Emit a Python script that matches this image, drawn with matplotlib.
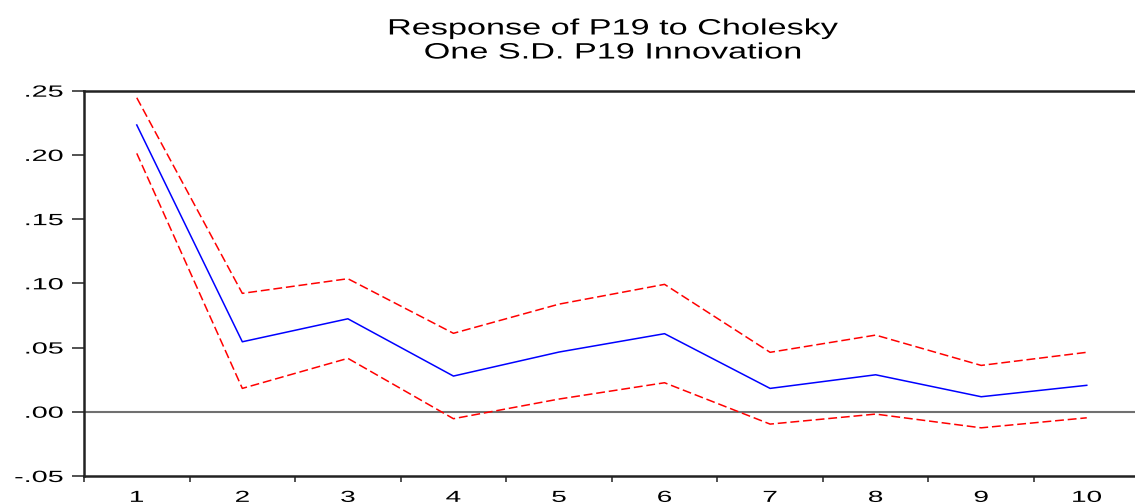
import numpy as np
import matplotlib
matplotlib.use("Agg")
import matplotlib.pyplot as plt
from matplotlib.ticker import FuncFormatter
from matplotlib.patheffects import AbstractPathEffect
from matplotlib.path import Path
from matplotlib.transforms import Affine2D

plt.rcParams['font.family'] = ['Liberation Sans', 'DejaVu Sans']

# impulse response of P19 with +/- 2 S.E. bands
periods = [1, 2, 3, 4, 5, 6, 7, 8, 9, 10]
response = [0.2233, 0.0545, 0.0724, 0.0278, 0.0465, 0.0608, 0.0182, 0.0288, 0.0117, 0.0206]
upper = [0.2445, 0.0922, 0.1036, 0.0611, 0.0838, 0.0992, 0.0463, 0.0597, 0.0361, 0.0463]
lower = [0.2012, 0.0182, 0.0416, -0.0054, 0.0099, 0.0226, -0.0096, -0.0018, -0.0125, -0.0047]
yticks = [-0.05, 0.00, 0.05, 0.10, 0.15, 0.20, 0.25]
title1 = "Response of P19 to Cholesky"
title2 = "One S.D. P19 Innovation"


# the original text is stretched sideways, widen glyphs around their anchor
class Stretch(AbstractPathEffect):
    def __init__(self, sx, anchor='center'):
        super().__init__()
        self.sx = sx
        self.anchor = anchor

    def draw_path(self, renderer, gc, tpath, affine, rgbFace=None):
        v = tpath.vertices
        if tpath.codes is not None:
            v = v[tpath.codes != Path.CLOSEPOLY]
        xs = affine.transform(v)[:, 0]
        cx = xs.max() if self.anchor == 'right' else (xs.min() + xs.max()) / 2
        t = affine + Affine2D().translate(-cx, 0).scale(self.sx, 1).translate(cx, 0)
        renderer.draw_path(gc, tpath, t, rgbFace)


fig = plt.figure(figsize=(11.35, 5.03), dpi=100)
ax = fig.add_axes([0.074, 0.0537, 0.930, 0.766])

ax.axhline(0, color='#707070', lw=1.5, zorder=1)
ax.plot(periods, response, color='#0000FF', lw=1.1, zorder=3)
ax.plot(periods, upper, color='#FF0000', lw=1.1, dashes=(5.8, 2.5), zorder=2)
ax.plot(periods, lower, color='#FF0000', lw=1.1, dashes=(5.8, 2.5), zorder=2)

ax.set_xlim(0.5, 10.5)
ax.set_ylim(-0.05, 0.25)

# ticks between periods, labels at the periods
ax.set_xticks(np.arange(0.5, 11, 1))
ax.set_xticklabels([])
ax.set_xticks(periods, minor=True)
ax.set_xticklabels([str(p) for p in periods], minor=True)
ax.tick_params(axis='x', which='major', direction='out', length=4.5, width=1.2, color='#333333')
ax.tick_params(axis='x', which='minor', length=0, pad=10, labelsize=11.5)

ax.set_yticks(yticks)
ax.yaxis.set_major_formatter(FuncFormatter(lambda v, p: ('%.2f' % v).replace('0.', '.')))
ax.tick_params(axis='y', direction='out', length=8.5, width=1.2, color='#333333', pad=6.5, labelsize=11.7)

for lab in ax.get_xticklabels(minor=True):
    lab.set_path_effects([Stretch(1.75)])
for lab in ax.get_yticklabels():
    lab.set_path_effects([Stretch(1.77, 'right')])

for s in ['left', 'top', 'bottom']:
    ax.spines[s].set_linewidth(1.8)
    ax.spines[s].set_color('#222222')
ax.spines['right'].set_visible(False)

fig.text(0.540, (503 - 34.5) / 503, title1, ha='center', va='baseline', fontsize=16,
         path_effects=[Stretch(1.54)])
fig.text(0.540, (503 - 58.5) / 503, title2, ha='center', va='baseline', fontsize=16,
         path_effects=[Stretch(1.54)])

fig.savefig("out.png", dpi=100)
